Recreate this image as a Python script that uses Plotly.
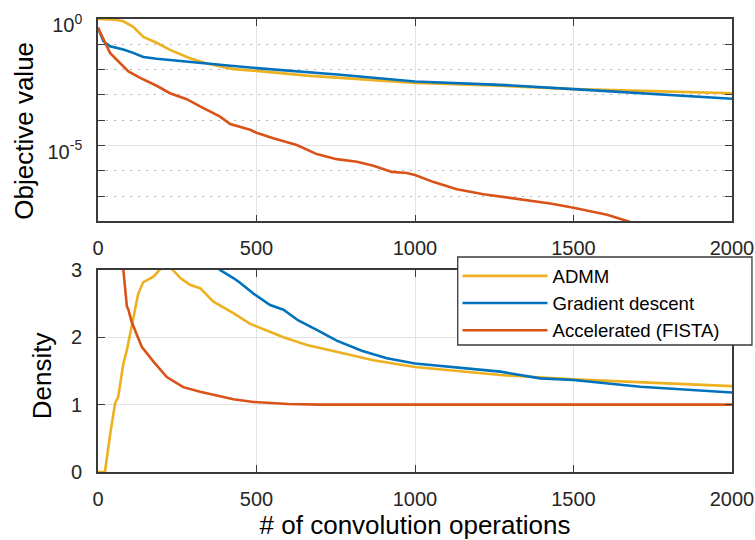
import plotly.graph_objects as go

# ---- objective value vs. number of convolutions (log scale) ----
admm_obj_x = [0, 30, 55, 80, 111, 143, 185, 227, 290, 343, 385, 427, 500, 580, 659, 800, 1000, 1269, 1500, 1750, 2000]
admm_obj_y = [1.0, 0.99, 0.93, 0.81, 0.49, 0.195, 0.115, 0.06, 0.028, 0.0174, 0.0138, 0.0105, 8.9e-3, 7.1e-3,
              5.8e-3, 4.4e-3, 3.0e-3, 2.3e-3, 1.7e-3, 1.41e-3, 1.17e-3]

gd_obj_x = [0, 17, 38, 80, 111, 143, 185, 217, 322, 427, 500, 606, 764, 1000, 1269, 1500, 1764, 2000]
gd_obj_y = [0.447, 0.132, 0.083, 0.062, 0.046, 0.0316, 0.027, 0.0245, 0.0182, 0.0138, 0.0115, 9.1e-3,
            6.3e-3, 3.4e-3, 2.5e-3, 1.7e-3, 1.07e-3, 7.1e-4]

fista_obj_x = [0, 20, 38, 59, 96, 133, 185, 227, 280, 322, 385, 417, 480, 500, 553, 627, 690, 753, 817, 869,
               927, 974, 1000, 1059, 1132, 1216, 1322, 1427, 1500, 1606, 1674, 1750, 2000]
fista_obj_y = [0.447, 0.141, 0.0457, 0.0245, 8.5e-3, 4.7e-3, 2.3e-3, 1.17e-3, 6.8e-4, 3.5e-4, 1.38e-4, 7.1e-5,
               4.2e-5, 3.2e-5, 1.95e-5, 1.05e-5, 4.6e-6, 2.9e-6, 2.3e-6, 1.6e-6, 9.1e-7, 8.3e-7, 6.8e-7,
               3.6e-7, 1.86e-7, 1.2e-7, 7.9e-8, 5.1e-8, 3.5e-8, 1.86e-8, 1.0e-8, 4e-9, 3e-10]

# ---- density vs. number of convolutions ----
admm_den_x = [0, 22, 38, 54, 64, 80, 91, 111, 127, 143, 175, 194, 215, 236, 260, 290, 322, 364, 427, 480,
              500, 585, 659, 764, 869, 1000, 1269, 1500, 2000]
admm_den_y = [0, 0, 0.55, 1.02, 1.12, 1.61, 1.81, 2.31, 2.65, 2.82, 2.9, 3.0, 3.08, 3.0, 2.88, 2.78, 2.73,
              2.53, 2.36, 2.2, 2.16, 2.0, 1.885, 1.77, 1.66, 1.56, 1.44, 1.375, 1.275]

gd_den_x = [200, 250, 330, 385, 427, 448, 490, 543, 585, 632, 690, 753, 832, 911, 1000, 1132, 1269, 1395,
            1500, 1711, 2000]
gd_den_y = [4.0, 3.6, 3.25, 3.0, 2.88, 2.81, 2.65, 2.48, 2.41, 2.25, 2.11, 1.95, 1.80, 1.69, 1.61, 1.55,
            1.49, 1.39, 1.365, 1.265, 1.18]

fista_den_x = [40, 60, 80, 91, 96, 106, 138, 175, 217, 269, 322, 374, 427, 490, 600, 700, 1000, 1500, 2000]
fista_den_y = [6.0, 4.2, 3.0, 2.46, 2.41, 2.23, 1.86, 1.64, 1.41, 1.26, 1.19, 1.13, 1.08, 1.04, 1.01, 1.0,
               1.0, 1.0, 1.0]

names = ["ADMM", "Gradient descent", "Accelerated (FISTA)"]
colors = ["#EDB120", "#0072BD", "#D95319"]

x_ticks = [0, 500, 1000, 1500, 2000]

FONT = "Liberation Sans, Arial, Helvetica, sans-serif"
INK = "#262626"
AXIS_LINE = "#3a3a3a"
GRID = "#e3e3e3"
LW = 2.6

fig = go.Figure()

obj_series = [(admm_obj_x, admm_obj_y), (gd_obj_x, gd_obj_y), (fista_obj_x, fista_obj_y)]
den_series = [(admm_den_x, admm_den_y), (gd_den_x, gd_den_y), (fista_den_x, fista_den_y)]

for (xs, ys), name, c in zip(obj_series, names, colors):
    fig.add_trace(go.Scatter(x=xs, y=ys, mode="lines", name=name, showlegend=False,
                             line=dict(color=c, width=LW), xaxis="x", yaxis="y"))

for (xs, ys), name, c in zip(den_series, names, colors):
    fig.add_trace(go.Scatter(x=xs, y=ys, mode="lines", name=name, showlegend=True,
                             line=dict(color=c, width=LW), xaxis="x2", yaxis="y2"))

common_axis = dict(
    showline=True, linecolor=AXIS_LINE, linewidth=1.6, mirror="ticks",
    ticks="inside", ticklen=7, tickwidth=1.3, tickcolor=AXIS_LINE,
    tickfont=dict(family=FONT, size=20, color=INK),
    showgrid=True, gridcolor=GRID, gridwidth=1, zeroline=False,
    automargin=False,
)

xaxis_common = dict(common_axis, range=[0, 2000], tickvals=x_ticks,
                    ticktext=[str(v) for v in x_ticks], ticklabelstandoff=8)

title_font = dict(family=FONT, size=26, color="black")

fig.update_layout(
    width=755, height=540,
    margin=dict(l=98, r=23, t=19, b=68),
    paper_bgcolor="white", plot_bgcolor="white",
    font=dict(family=FONT, color=INK),
    xaxis=dict(xaxis_common, domain=[0, 1], anchor="y"),
    yaxis=dict(common_axis, type="log", range=[-8, 0], domain=[0.553, 1], anchor="x",
               tickvals=[1e-5, 1e0], ticktext=["10<sup>-5</sup>", "10<sup>0</sup>"],
               ticklabelstandoff=10, ticklabelshift=6,
               minor=dict(tickmode="array",
                          tickvals=[1e-1, 1e-2, 1e-3, 1e-4, 1e-6, 1e-7],
                          ticks="inside", ticklen=7, tickcolor=AXIS_LINE,
                          showgrid=True, gridcolor="#b5b5b5", griddash="2px,6px", gridwidth=1)),
    xaxis2=dict(xaxis_common, domain=[0, 1], anchor="y2",
                title=dict(text="# of convolution operations", font=title_font, standoff=6)),
    yaxis2=dict(common_axis, range=[0, 3], domain=[0, 0.446], anchor="x2",
                tickvals=[0, 1, 2, 3], ticklabelstandoff=10),
    legend=dict(x=0.567, y=0.474, xanchor="left", yanchor="top",
                bgcolor="rgba(0,0,0,0)", borderwidth=0,
                font=dict(family=FONT, size=18.6, color="black"),
                itemwidth=85, tracegroupgap=0),
    showlegend=True,
)

# Vertical axis titles
fig.add_annotation(text="Objective value", xref="paper", yref="paper", x=-0.117, y=0.753,
                   xanchor="center", yanchor="middle", textangle=-90, showarrow=False, font=title_font)
fig.add_annotation(text="Density", xref="paper", yref="paper", x=-0.088, y=0.212,
                   xanchor="center", yanchor="middle", textangle=-90, showarrow=False, font=title_font)

# Legend frame, wider than the entries it holds
fig.add_shape(type="rect", xref="paper", yref="paper", x0=0.5674, x1=1.0315, y0=0.2804, y1=0.4746,
              fillcolor="white", line=dict(color=AXIS_LINE, width=1.3), layer="above")

fig.write_html("out.html")
